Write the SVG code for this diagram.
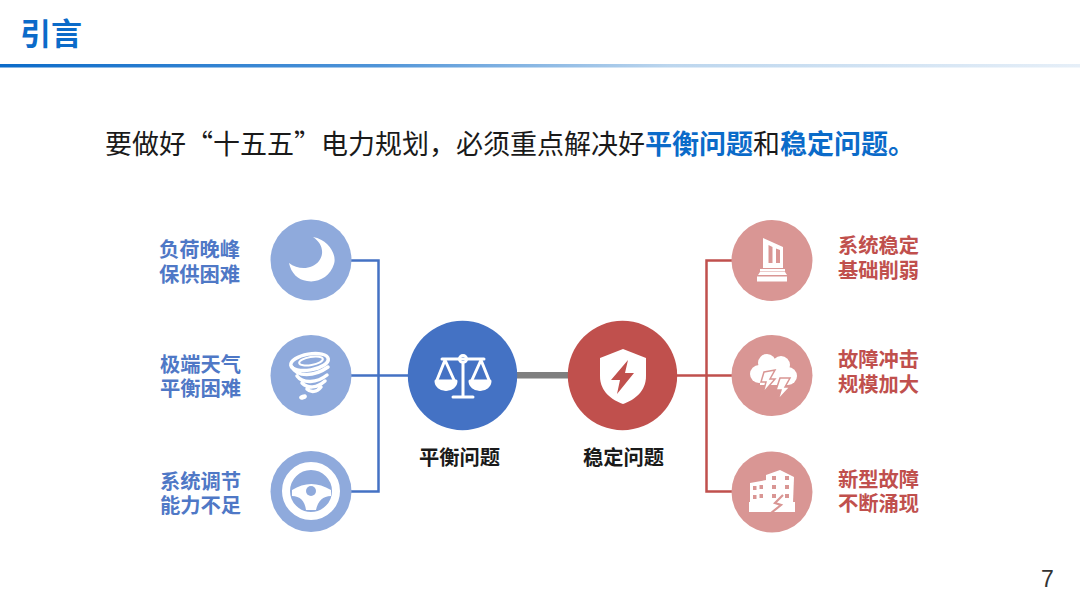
<svg xmlns="http://www.w3.org/2000/svg" width="1080" height="608" viewBox="0 0 1080 608">
<style>
text{font-family:"Liberation Sans","Noto Sans CJK SC",sans-serif}
.b{font-weight:700}
.lb{font-size:20.3px;font-weight:700;fill:#4f78c6}
.lr{font-size:20.3px;font-weight:700;fill:#c0504d}
.lk{font-size:20.3px;font-weight:700;fill:#1a1a1a;text-anchor:middle}
.i{fill:#fff}
.is{fill:none;stroke:#fff;stroke-linecap:round;stroke-linejoin:round}
.cb{fill:#8faadc}.cr{fill:#d99694}
.bolt{fill:#fff;stroke:#d99694;stroke-width:1.500;stroke-linejoin:miter}
.win{fill:#d99694}
</style>
<defs>
<linearGradient id="rule" x1="0" x2="1" y1="0" y2="0"><stop offset="0" stop-color="#0b6bc9"/><stop offset=".35" stop-color="#4f94d8"/><stop offset=".62" stop-color="#bcd6ee"/><stop offset="1" stop-color="#e6eff8"/></linearGradient>
</defs>
<rect width="1080" height="608" fill="#fff"/>
<g id="header">
<text class="b" x="20" y="45" font-size="31" fill="#0b6bc9">引言</text>
<rect x="0" y="64" width="1080" height="3.500" fill="url(#rule)"/>
</g>
<text x="105" y="154" font-size="27" fill="#1a1a1a" style="font-family:'Noto Sans CJK SC',sans-serif">要做好“十五五”电力规划，必须重点解决好<tspan class="b" fill="#0b6bc9">平衡问题</tspan>和<tspan class="b" fill="#0b6bc9">稳定问题。</tspan></text>
<g id="connectors">
<path d="M351 260.500H378.500V491.500H351M351 375.500H408" fill="none" stroke="#4472c4" stroke-width="2.500"/>
<path d="M732 260.500H706.500V491.500H732M677 375.500H732" fill="none" stroke="#c0504d" stroke-width="2.500"/>
<rect x="517" y="372" width="52" height="6.500" fill="#7f7f7f"/>
</g>
<g id="n-balance">
<circle cx="462.500" cy="375.500" r="54.700" fill="#4472c4"/>
<g class="is" stroke-width="3">
<path d="M442 359H484M463 364V396M453 397H473"/>
<circle cx="463" cy="359" r="3.500"/>
<path d="M445 360L437 380M445 360L454 380M481 360L472 380M481 360L489 380"/>
<path d="M436 381H456A10 8.500 0 0 1 436 381ZM470 381H490A10 8.500 0 0 1 470 381Z"/>
</g>
<path class="i" d="M436 382H456A10 8.500 0 0 1 436 382ZM470 382H490A10 8.500 0 0 1 470 382Z"/>
<text class="lk" x="459.500" y="465">平衡问题</text>
</g>
<g id="n-stable">
<circle cx="622.500" cy="375.500" r="54.700" fill="#c0504d"/>
<path class="i" d="M623 349L646 358V376C646 392 634 400 623 404C612 400 600 392 600 376V358Z"/>
<path d="M628 360L611 380H620L617 394L634 373H625Z" fill="#c0504d"/>
<text class="lk" x="623.500" y="465">稳定问题</text>
</g>
<g id="n-evening">
<circle class="cb" cx="311" cy="260" r="40.500"/>
<path class="i" d="M313 237C329 240 337 255 334 264C330 277 318 283 307 281C298 280 291 273 289 263C298 270 312 270 319 261C325 253 322 243 313 237Z"/>
<text class="lb"><tspan x="159" y="257">负荷晚峰</tspan><tspan x="159" y="282">保供困难</tspan></text>
</g>
<g id="n-weather">
<circle class="cb" cx="311" cy="375.500" r="40.500"/>
<g class="is" stroke-width="3.500">
<ellipse cx="309.500" cy="362" rx="19" ry="8" transform="rotate(-10 309.500 362)"/>
<path d="M292 367C297 377 314 377 328 367M297 376C303 384 317 383 327 375M302 383C308 389 317 388 325 381M307 389C311 393 317 392 321 387"/>
</g>
<ellipse class="is" stroke-width="2" cx="311" cy="361" rx="12" ry="4" transform="rotate(-10 311 361)"/>
<ellipse class="i" cx="303" cy="397" rx="4" ry="2.500" transform="rotate(-20 303 397)"/>
<text class="lb"><tspan x="160" y="372">极端天气</tspan><tspan x="160" y="396">平衡困难</tspan></text>
</g>
<g id="n-regulate">
<circle class="cb" cx="311" cy="491.500" r="40.500"/>
<circle cx="311" cy="491" r="25" fill="none" stroke="#fff" stroke-width="8"/>
<path class="i" d="M292 490Q311 478 331 490L331 496Q319 496 316 510H306Q304 496 292 496Z"/>
<circle class="cb" cx="311" cy="491" r="5"/>
<text class="lb"><tspan x="160" y="489">系统调节</tspan><tspan x="160" y="513">能力不足</tspan></text>
</g>
<g id="n-foundation">
<circle class="cr" cx="772" cy="260.500" r="40.500"/>
<path class="i" fill-rule="evenodd" d="M763 238L783 247V268H763ZM768.500 245V263H772.500V247ZM776 248.500V263H780V250Z"/>
<rect class="i" x="760" y="269" width="25" height="2.500"/>
<path class="i" d="M760 272H785L787 275H758Z"/>
<rect class="i" x="757" y="276.500" width="30" height="5"/>
<text class="lr"><tspan x="838" y="253">系统稳定</tspan><tspan x="838" y="278">基础削弱</tspan></text>
</g>
<g id="n-impact">
<circle class="cr" cx="772" cy="375.500" r="40.500"/>
<g class="i">
<circle cx="767" cy="363" r="9"/>
<circle cx="781" cy="365" r="9"/>
<circle cx="759" cy="374" r="9"/>
<circle cx="788" cy="376" r="9"/>
<rect x="760" y="365" width="28" height="20"/>
</g>
<path class="bolt" d="M764 372L775 370L770 379H775L763 393L766 382H761Z"/>
<path class="bolt" d="M780 378H790L785 387H790L778 400L781 390H776Z"/>
<text class="lr"><tspan x="838" y="367">故障冲击</tspan><tspan x="838" y="392">规模加大</tspan></text>
</g>
<g id="n-new">
<circle class="cr" cx="772" cy="492" r="40.500"/>
<path class="i" d="M750 483L766 480V503H750Z"/>
<path class="i" d="M766 475L780 470L794 477L793 503H766Z"/>
<path class="i" d="M749 502H795V512H749Z"/>
<path d="M783 495L775 503L781 505L771 513" fill="none" stroke="#d99694" stroke-width="2.200"/>
<g class="win">
<rect x="753" y="486" width="3.500" height="4"/><rect x="759.500" y="485" width="3.500" height="4"/>
<rect x="753" y="495" width="3.500" height="4"/><rect x="759.500" y="494" width="3.500" height="4"/>
<rect x="772" y="476" width="4" height="4"/><rect x="785" y="476" width="4" height="4"/>
<rect x="772" y="485" width="4" height="4"/><rect x="785" y="485" width="4" height="4"/>
<rect x="772" y="494" width="4" height="4"/><rect x="785" y="494" width="4" height="4"/>
</g>
<text class="lr"><tspan x="838" y="487">新型故障</tspan><tspan x="838" y="511">不断涌现</tspan></text>
</g>
<text x="1041" y="587" font-size="23" fill="#333" style="font-family:'Liberation Sans',sans-serif">7</text>
</svg>
